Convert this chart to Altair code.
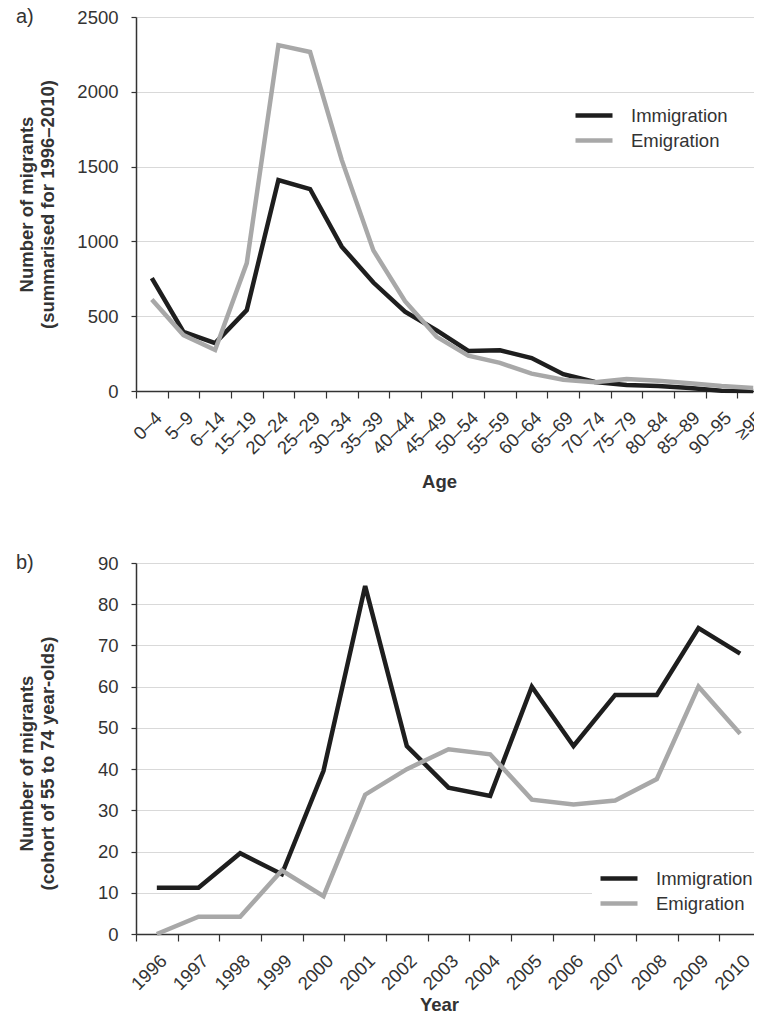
import altair as alt
import pandas as pd

FONT = "Liberation Sans"

ages = ["0–4", "5–9", "6–14", "15–19", "20–24", "25–29", "30–34", "35–39", "40–44", "45–49",
        "50–54", "55–59", "60–64", "65–69", "70–74", "75–79", "80–84", "85–89", "90–95", "≥95"]
age_immigration = [755, 395, 320, 541, 1410, 1350, 965, 725, 530, 405,
                   268, 272, 220, 112, 60, 40, 33, 20, 2, 0]
age_emigration = [612, 374, 274, 855, 2312, 2266, 1545, 940, 600, 362,
                  236, 188, 116, 75, 58, 80, 68, 52, 33, 20]

years = ["1996", "1997", "1998", "1999", "2000", "2001", "2002", "2003",
         "2004", "2005", "2006", "2007", "2008", "2009", "2010"]
year_immigration = [11.2, 11.2, 19.6, 14.5, 39.6, 84.4, 45.6, 35.5, 33.5, 60, 45.6, 58, 58, 74.2, 68]
year_emigration = [0, 4.2, 4.2, 15.4, 9.2, 33.8, 40, 44.8, 43.6, 32.6, 31.4, 32.4, 37.6, 60, 48.6]

series_names = ["Immigration", "Emigration"]
series_colors = ["#1e1e1e", "#a8a8a8"]


def long_frame(cats, imm, emi):
    rows = []
    for name, vals in zip(series_names, [imm, emi]):
        for c, v in zip(cats, vals):
            rows.append({"cat": c, "series": name, "value": v})
    return pd.DataFrame(rows)


df_a = long_frame(ages, age_immigration, age_emigration)
df_b = long_frame(years, year_immigration, year_emigration)

color_scale = alt.Scale(domain=series_names, range=series_colors)


def y_axis(values, title, title_y=None):
    kw = dict(values=values, title=title, format="d", grid=True, gridColor="#d9d9d9",
              gridWidth=1.2, domainColor="#333333", domainWidth=1.5, tickColor="#333333",
              tickSize=5, tickWidth=1.2, labelFontSize=18.5, labelColor="#333333",
              labelFont=FONT, labelPadding=13, titleFont=FONT, titleFontSize=18.5,
              titleFontWeight="bold", titleColor="#333333", titleX=-100, titleLineHeight=21)
    if title_y is not None:
        kw["titleY"] = title_y
    return alt.Axis(**kw)


def x_axis(title, title_x, title_y):
    return alt.Axis(title=title, labelAngle=-45, tickBand="extent", grid=False,
                    domainColor="#333333", domainWidth=1.5, tickColor="#333333",
                    tickSize=7, tickWidth=1.2, labelFontSize=18.5, labelColor="#333333",
                    labelFont=FONT, labelPadding=10, titleFont=FONT, titleFontSize=18.5,
                    titleFontWeight="bold", titleColor="#333333", titleX=title_x,
                    titleY=title_y)


def legend(x, y):
    return alt.Legend(title=None, orient="none", legendX=x, legendY=y,
                      symbolType="stroke", symbolStrokeWidth=4.5, symbolSize=1369,
                      clipHeight=25, labelFontSize=18.5, labelFont=FONT,
                      labelColor="#333333", labelOffset=16, rowPadding=0,
                      fillColor="white", padding=6)


def panel(df, cats, ydom, yvals, ytitle, xtitle, width, height, letter, leg_x, leg_y,
          xt_x, xt_y, title_y=None):
    lines = alt.Chart(df).mark_line(strokeWidth=4.5, strokeJoin="miter").encode(
        x=alt.X("cat:N", sort=cats, scale=alt.Scale(paddingInner=0, paddingOuter=0),
                axis=x_axis(xtitle, xt_x, xt_y)),
        y=alt.Y("value:Q", scale=alt.Scale(domain=ydom, nice=False),
                axis=y_axis(yvals, ytitle, title_y)),
        color=alt.Color("series:N", scale=color_scale, sort=series_names,
                        legend=legend(leg_x, leg_y)),
    )
    label = alt.Chart(pd.DataFrame({"t": [letter]})).mark_text(
        align="left", baseline="middle", fontSize=20, font=FONT, color="#333333"
    ).encode(x=alt.value(-120), y=alt.value(0), text="t:N")
    return alt.layer(lines, label).properties(width=width, height=height)


chart_a = panel(df_a, ages, [0, 2500], [0, 500, 1000, 1500, 2000, 2500],
                ["Number of migrants", "(summarised for 1996–2010)"], "Age",
                633, 374, "a)", 431, 80, 303, 81)
chart_b = panel(df_b, years, [0, 90], list(range(0, 91, 10)),
                ["Number of migrants", "(cohort of 55 to 74 year-olds)"], "Year",
                625, 371, "b)", 456, 297, 303, 61, title_y=200)

chart = alt.vconcat(chart_a, chart_b, spacing=62).resolve_legend(
    color="independent"
).properties(
    padding={"left": 8, "top": -1, "right": -16, "bottom": 0}
).configure_view(stroke=None)

chart.save("out.html", embed_options={"renderer": "svg", "actions": False})
